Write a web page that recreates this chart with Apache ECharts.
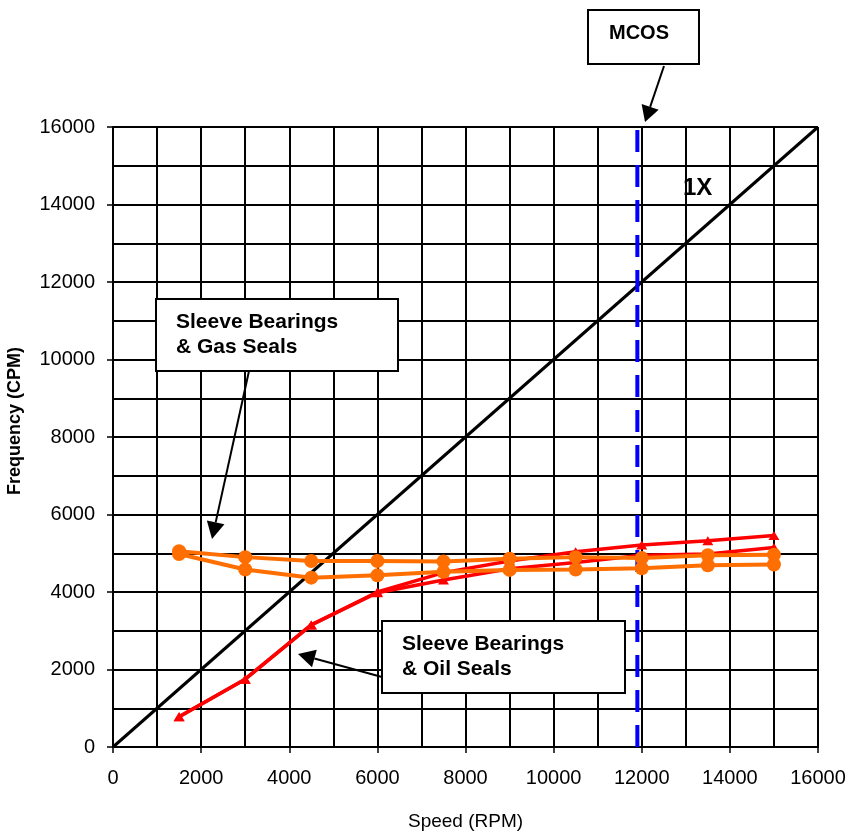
<!DOCTYPE html>
<html>
<head>
<meta charset="utf-8">
<script src="https://cdn.jsdelivr.net/npm/echarts@6/dist/echarts.min.js"></script>
<style>
html,body{margin:0;padding:0;background:#fff;}
#chart{width:847px;height:834px;}
</style>
</head>
<body>
<div id="chart"></div>
<script>
// ---- data ----
const speed = [1500, 3000, 4500, 6000, 7500, 9000, 10500, 12000, 13500, 15000];
const gasSealsUpper = [5050, 4900, 4800, 4800, 4790, 4860, 4900, 4880, 4950, 4960];
const gasSealsLower = [4980, 4580, 4370, 4430, 4520, 4570, 4580, 4610, 4690, 4710];
const oilSealsUpper = [780, 1750, 3150, 4000, 4500, 4800, 5040, 5210, 5320, 5460];
const oilSealsLower = [780, 1750, 3150, 3980, 4310, 4600, 4760, 4950, 4980, 5150];
const oneXSpeed = [0, 16000];
const oneXFreq = [0, 16000];
const mcosSpeed = 11900;
const mcosFreq = [0, 16000];
const axisMin = 0, axisMax = 16000, labelStep = 2000;

const FONT = '"Liberation Sans", Arial, sans-serif';
const ORANGE = '#FF6E00';
const RED = '#FF0000';

function pairs(xs, ys) { return xs.map((x, i) => [x, ys[i]]); }

function arrow(x1, y1, x2, y2, headLen, headW) {
  const ang = Math.atan2(y2 - y1, x2 - x1);
  const bx = x2 - headLen * Math.cos(ang), by = y2 - headLen * Math.sin(ang);
  const px = -Math.sin(ang) * headW / 2, py = Math.cos(ang) * headW / 2;
  return [
    { type: 'line', shape: { x1: x1, y1: y1, x2: bx, y2: by }, style: { stroke: '#000', lineWidth: 2 }, z: 100 },
    { type: 'polygon', shape: { points: [[x2, y2], [bx + px, by + py], [bx - px, by - py]] }, style: { fill: '#000' }, z: 100 }
  ];
}

function box(x, y, w, h, lines, tx, ty, lh, size) {
  const els = [{ type: 'rect', shape: { x: x, y: y, width: w, height: h }, style: { fill: '#fff', stroke: '#000', lineWidth: 2 }, z: 100 }];
  lines.forEach((t, i) => {
    els.push({ type: 'text', x: tx, y: ty + i * lh, style: { text: t, font: 'bold ' + size + 'px ' + FONT, fill: '#000', textVerticalAlign: 'middle', textAlign: 'left' }, z: 101 });
  });
  return els;
}

const graphics = [].concat(
  box(588, 10, 111, 54, ['MCOS'], 609, 33, 0, 20),
  arrow(664, 66, 645, 122, 16, 18),
  box(156, 299, 242, 72, ['Sleeve Bearings', '& Gas Seals'], 176, 322, 25, 21),
  arrow(249, 371, 212, 539, 17, 18),
  box(382, 621, 243, 72, ['Sleeve Bearings', '& Oil Seals'], 402, 644, 25, 21),
  arrow(382, 677, 298, 654, 17, 18),
  [{ type: 'text', x: 683, y: 188, style: { text: '1X', font: 'bold 24px ' + FONT, fill: '#000', textVerticalAlign: 'middle' }, z: 100 }]
);

const axisCommon = {
  type: 'value', min: axisMin, max: axisMax, interval: labelStep,
  axisLine: { show: true, onZero: false, lineStyle: { color: '#000', width: 2 } },
  axisTick: { show: true, length: 6, inside: false, lineStyle: { color: '#000', width: 1.5 } },
  splitLine: { show: true, lineStyle: { color: '#000', width: 2 } },
  minorTick: { show: false, splitNumber: 2 },
  minorSplitLine: { show: true, lineStyle: { color: '#000', width: 2 } },
  nameLocation: 'middle'
};

const chart = echarts.init(document.getElementById('chart'), null, { renderer: 'canvas' });
chart.setOption({
  animation: false,
  backgroundColor: '#fff',
  grid: { left: 113, top: 127, right: 29, bottom: 87, containLabel: false, outerBoundsMode: 'none' },
  xAxis: Object.assign({}, axisCommon, {
    name: 'Speed (RPM)', nameGap: 65,
    nameTextStyle: { fontFamily: FONT, fontSize: 19, color: '#000' },
    axisLabel: { fontFamily: FONT, fontSize: 20, color: '#000', margin: 21, formatter: v => String(v) }
  }),
  yAxis: Object.assign({}, axisCommon, {
    name: 'Frequency (CPM)', nameGap: 89,
    nameTextStyle: { fontFamily: FONT, fontSize: 18, fontWeight: 'bold', color: '#000', padding: [0, 0, 0, 32] },
    axisLabel: { fontFamily: FONT, fontSize: 20, color: '#000', margin: 18, formatter: v => String(v) }
  }),
  graphic: graphics,
  series: [
    { name: '1X', type: 'line', data: pairs(oneXSpeed, oneXFreq), showSymbol: false, silent: true,
      lineStyle: { color: '#000', width: 3 }, z: 3 },
    { name: 'MCOS', type: 'line', data: pairs([mcosSpeed, mcosSpeed], mcosFreq), showSymbol: false, silent: true,
      lineStyle: { color: '#0000FF', width: 4, type: [22, 13] }, z: 4 },
    { name: 'Oil Seals A', type: 'line', data: pairs(speed, oilSealsUpper), symbol: 'triangle', symbolSize: [11, 9],
      itemStyle: { color: RED }, lineStyle: { color: RED, width: 3.5 }, silent: true, z: 5 },
    { name: 'Oil Seals B', type: 'line', data: pairs(speed, oilSealsLower), symbol: 'triangle', symbolSize: [11, 9],
      itemStyle: { color: RED }, lineStyle: { color: RED, width: 3.5 }, silent: true, z: 5 },
    { name: 'Gas Seals A', type: 'line', data: pairs(speed, gasSealsUpper), symbol: 'circle', symbolSize: 14,
      itemStyle: { color: ORANGE }, lineStyle: { color: ORANGE, width: 4 }, silent: true, z: 6 },
    { name: 'Gas Seals B', type: 'line', data: pairs(speed, gasSealsLower), symbol: 'circle', symbolSize: 14,
      itemStyle: { color: ORANGE }, lineStyle: { color: ORANGE, width: 4 }, silent: true, z: 6 }
  ]
});
</script>
</body>
</html>
